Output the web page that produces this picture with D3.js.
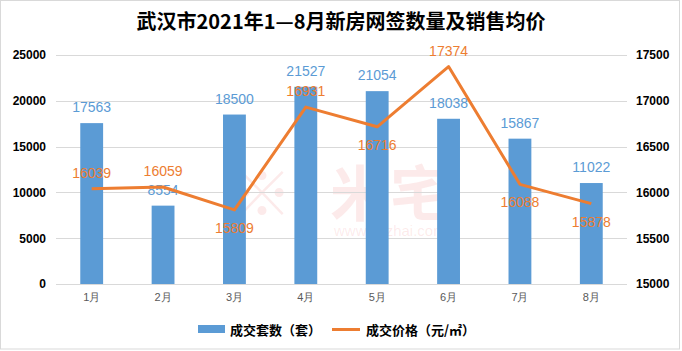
<!DOCTYPE html>
<html>
<head>
<meta charset="utf-8">
<script src="https://cdn.jsdelivr.net/npm/d3@7"></script>
<style>
  body { margin: 0; background: #fff; }
  .title { font-family: "Noto Sans CJK SC", sans-serif; font-weight: bold; font-size: 20px; fill: #000; }
  .tick text { font-family: "Liberation Sans", Arial, sans-serif; }
  .label { font-family: "Liberation Sans", Arial, sans-serif; font-size: 14px; }
  .legend text { font-family: "Noto Sans CJK SC", sans-serif; font-weight: bold; font-size: 13px; fill: #000; }
</style>
</head>
<body>
<div class="graph"></div>
<script>
const months = ["1月", "2月", "3月", "4月", "5月", "6月", "7月", "8月"];
const deals = [17563, 8554, 18500, 21527, 21054, 18038, 15867, 11022];
const prices = [16039, 16059, 15809, 16931, 16716, 17374, 16088, 15878];
const leftTicks = [0, 5000, 10000, 15000, 20000, 25000];
const rightTicks = [15000, 15500, 16000, 16500, 17000, 17500];
const legendNames = ["成交套数（套）", "成交价格（元/㎡）"];
// where excel put the price labels
const priceLabelSide = ["up", "up", "down", "up", "down", "up", "down", "down"];

class ComboChart {
  constructor() {
    this.width = 682;
    this.height = 351;
    this.margin = { top: 55, right: 55, bottom: 67, left: 56 };
    this.barColor = "#5B9BD5";
    this.lineColor = "#ED7D31";
    this.setupSvg();
  }

  setupSvg() {
    this.svg = d3.select(".graph")
      .append("svg")
      .attr("width", this.width)
      .attr("height", this.height);

    //Border round the picture
    this.svg.append("rect")
      .attr("x", 0.5).attr("y", 0.5)
      .attr("width", 679).attr("height", 348.5)
      .attr("fill", "#fff")
      .attr("stroke", "#d9d9d9");

    this.svg.append("text")
      .attr("class", "title")
      .attr("x", 341)
      .attr("y", 29)
      .attr("text-anchor", "middle")
      .text("武汉市2021年1—8月新房网签数量及销售均价");

    this.xScale = d3.scaleBand()
      .domain(months)
      .range([this.margin.left, this.width - this.margin.right])
      .paddingInner(0.68)
      .paddingOuter(0.34);

    this.yLeft = d3.scaleLinear()
      .domain([0, 25000])
      .range([this.height - this.margin.bottom, this.margin.top]);

    this.yRight = d3.scaleLinear()
      .domain([15000, 17500])
      .range([this.height - this.margin.bottom, this.margin.top]);

    this.drawWatermark();
    this.drawAxes();
    this.drawBars();
    this.drawLine();
    this.drawLegend();
  }

  drawWatermark() {
    let wm = this.svg.append("g").attr("fill", "rgba(235, 90, 90, 0.13)");
    wm.append("text")
      .attr("x", 262).attr("y", 216)
      .attr("text-anchor", "middle")
      .attr("font-family", "Noto Sans CJK SC")
      .attr("font-weight", "bold")
      .attr("font-size", 60)
      .text("※");
    wm.append("text")
      .attr("x", 330).attr("y", 216)
      .attr("font-family", "Noto Sans CJK SC")
      .attr("font-weight", "bold")
      .attr("font-size", 60)
      .text("米宅");
    wm.append("text")
      .attr("x", 334).attr("y", 236)
      .attr("font-family", "Liberation Sans")
      .attr("font-size", 15)
      .text("www.mizhai.com");
  }

  drawAxes() {
    const right = this.width - this.margin.right;

    //Gridlines
    this.svg.append("g")
      .selectAll("line")
      .data(leftTicks)
      .join("line")
      .attr("x1", this.margin.left)
      .attr("x2", right)
      .attr("y1", d => Math.round(this.yLeft(d)) + 0.5)
      .attr("y2", d => Math.round(this.yLeft(d)) + 0.5)
      .attr("stroke", "#d9d9d9");

    let leftAxis = this.svg.append("g")
      .attr("transform", `translate(${this.margin.left}, 0)`)
      .call(d3.axisLeft(this.yLeft).tickValues(leftTicks).tickFormat(d3.format("d")).tickSize(0).tickPadding(10));
    leftAxis.select(".domain").remove();
    leftAxis.selectAll("text")
      .attr("font-size", 12).attr("font-weight", "bold").attr("fill", "#000");

    let rightAxis = this.svg.append("g")
      .attr("transform", `translate(${right}, 0)`)
      .call(d3.axisRight(this.yRight).tickValues(rightTicks).tickFormat(d3.format("d")).tickSize(0).tickPadding(9));
    rightAxis.select(".domain").remove();
    rightAxis.selectAll("text")
      .attr("font-size", 12).attr("font-weight", "bold").attr("fill", "#000");

    let xAxis = this.svg.append("g")
      .attr("transform", `translate(0, ${this.height - this.margin.bottom})`)
      .call(d3.axisBottom(this.xScale).tickSize(0).tickPadding(9));
    xAxis.select(".domain").remove();
    xAxis.selectAll("text")
      .attr("font-family", "Noto Sans CJK SC")
      .attr("font-size", 11).attr("fill", "#595959");
  }

  drawBars() {
    let bars = this.svg.append("g");
    bars.selectAll("rect")
      .data(deals)
      .join("rect")
      .attr("x", (d, i) => this.xScale(months[i]))
      .attr("width", this.xScale.bandwidth())
      .attr("y", d => this.yLeft(d))
      .attr("height", d => this.yLeft(0) - this.yLeft(d))
      .attr("fill", this.barColor);

    bars.selectAll("text")
      .data(deals)
      .join("text")
      .attr("class", "label")
      .attr("x", (d, i) => this.xScale(months[i]) + this.xScale.bandwidth() / 2)
      .attr("y", d => this.yLeft(d) - 11)
      .attr("text-anchor", "middle")
      .attr("fill", this.barColor)
      .text(d => d);
  }

  drawLine() {
    const cx = (d, i) => this.xScale(months[i]) + this.xScale.bandwidth() / 2;
    let line = d3.line()
      .x(cx)
      .y(d => this.yRight(d));

    this.svg.append("path")
      .datum(prices)
      .attr("d", line)
      .attr("fill", "none")
      .attr("stroke", this.lineColor)
      .attr("stroke-width", 3)
      .attr("stroke-linejoin", "round");

    this.svg.append("g")
      .selectAll("text")
      .data(prices)
      .join("text")
      .attr("class", "label")
      .attr("x", cx)
      .attr("y", (d, i) => this.yRight(d) + (priceLabelSide[i] == "up" ? -11 : 23))
      .attr("text-anchor", "middle")
      .attr("fill", this.lineColor)
      .text(d => d);
  }

  drawLegend() {
    let legend = this.svg.append("g").attr("class", "legend");
    legend.append("rect")
      .attr("x", 198).attr("y", 325)
      .attr("width", 27).attr("height", 8)
      .attr("fill", this.barColor);
    legend.append("text")
      .attr("x", 230).attr("y", 334.5)
      .text(legendNames[0]);
    legend.append("line")
      .attr("x1", 332).attr("x2", 360)
      .attr("y1", 329.5).attr("y2", 329.5)
      .attr("stroke", this.lineColor)
      .attr("stroke-width", 3);
    legend.append("text")
      .attr("x", 366).attr("y", 334.5)
      .text(legendNames[1]);
  }
}

new ComboChart();
</script>
</body>
</html>
